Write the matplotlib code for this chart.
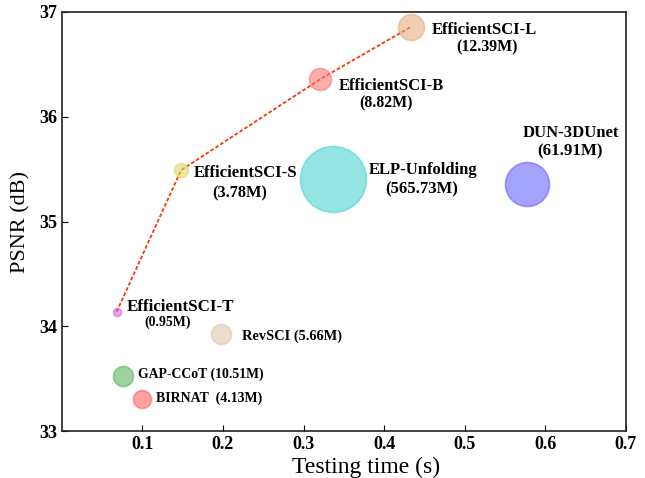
import numpy as np
import matplotlib.pyplot as plt
from matplotlib import rc

rc('font', **{'family': 'serif', 'serif': ['Liberation Serif', 'DejaVu Serif']})

# data
names  = ['EfficientSCI-T', 'EfficientSCI-S', 'EfficientSCI-B', 'EfficientSCI-L',
          'ELP-Unfolding', 'DUN-3DUnet', 'RevSCI', 'GAP-CCoT', 'BIRNAT']
params = ['0.95M', '3.78M', '8.82M', '12.39M', '565.73M', '61.91M', '5.66M', '10.51M', '4.13M']
times  = [0.068, 0.148, 0.321, 0.434, 0.336, 0.577, 0.198, 0.076, 0.099]
psnr   = [34.14, 35.49, 36.36, 36.86, 35.41, 35.36, 33.93, 33.53, 33.31]

# marker radius (px) and colours
radius = [4, 7, 11, 13, 33, 22, 10, 10, 9]
colors = ['#d65fd6', '#d8d860', '#ff6b6b', '#e0a878', '#40d0d0', '#5a5aff',
          '#dcc2a0', '#4caf50', '#ff5555']

fig = plt.figure(figsize=(6.45, 4.78), dpi=100)
ax = fig.add_axes([0.096, 0.098, 0.874, 0.877])

# EfficientSCI family line
ax.plot(times[:4], psnr[:4], linestyle=(0, (2, 1.2)), color='#ff3300', lw=1.3, zorder=1)

for i in range(len(names)):
    s = (radius[i] * 2 * 72 / 100) ** 2
    ax.scatter(times[i], psnr[i], s=s, color=colors[i], alpha=0.55,
               edgecolors=colors[i], linewidths=1.2, zorder=2)

def label(x, y, txt, size):
    ax.text(x, y, txt, fontsize=size, fontweight='bold', ha='center', va='center')

# annotations
label(0.525, 36.83, names[3], 12)
label(0.528, 36.66, '(' + params[3] + ')', 11.4)
label(0.409, 36.29, names[2], 12)
label(0.403, 36.13, '(' + params[2] + ')', 11.4)
label(0.228, 35.46, names[1], 12)
label(0.221, 35.27, '(' + params[1] + ')', 11.8)
label(0.448, 35.49, names[4], 12)
label(0.447, 35.31, '(' + params[4] + ')', 12)
label(0.632, 35.845, names[5], 12)
label(0.631, 35.67, '(' + params[5] + ')', 12.2)
label(0.1475, 34.18, names[0], 12.2)
label(0.131, 34.04, '(' + params[0] + ')', 10)
label(0.286, 33.91, names[6] + ' (' + params[6] + ')', 10.4)
label(0.172, 33.54, names[7] + ' (' + params[7] + ')', 9.9)
label(0.183, 33.315, names[8] + '  (' + params[8] + ')', 10)

ax.set_xlim(0, 0.7)
ax.set_ylim(33, 37)
ax.set_xticks([0.1, 0.2, 0.3, 0.4, 0.5, 0.6, 0.7])
ax.set_yticks([33, 34, 35, 36, 37])
ax.set_xticklabels(['0.1', '0.2', '0.3', '0.4', '0.5', '0.6', '0.7'])
ax.tick_params(direction='in', length=4, labelsize=13)
for lab in ax.get_xticklabels() + ax.get_yticklabels():
    lab.set_fontweight('bold')
for sp in ax.spines.values():
    sp.set_linewidth(1.2)
    sp.set_color('#222222')

ax.set_xlabel('Testing time (s)', fontsize=17, va='baseline')
ax.xaxis.set_label_coords(0.539, -0.099)
ax.set_ylabel('PSNR (dB)', fontsize=16, labelpad=6)

fig.savefig('out.png', dpi=100)
